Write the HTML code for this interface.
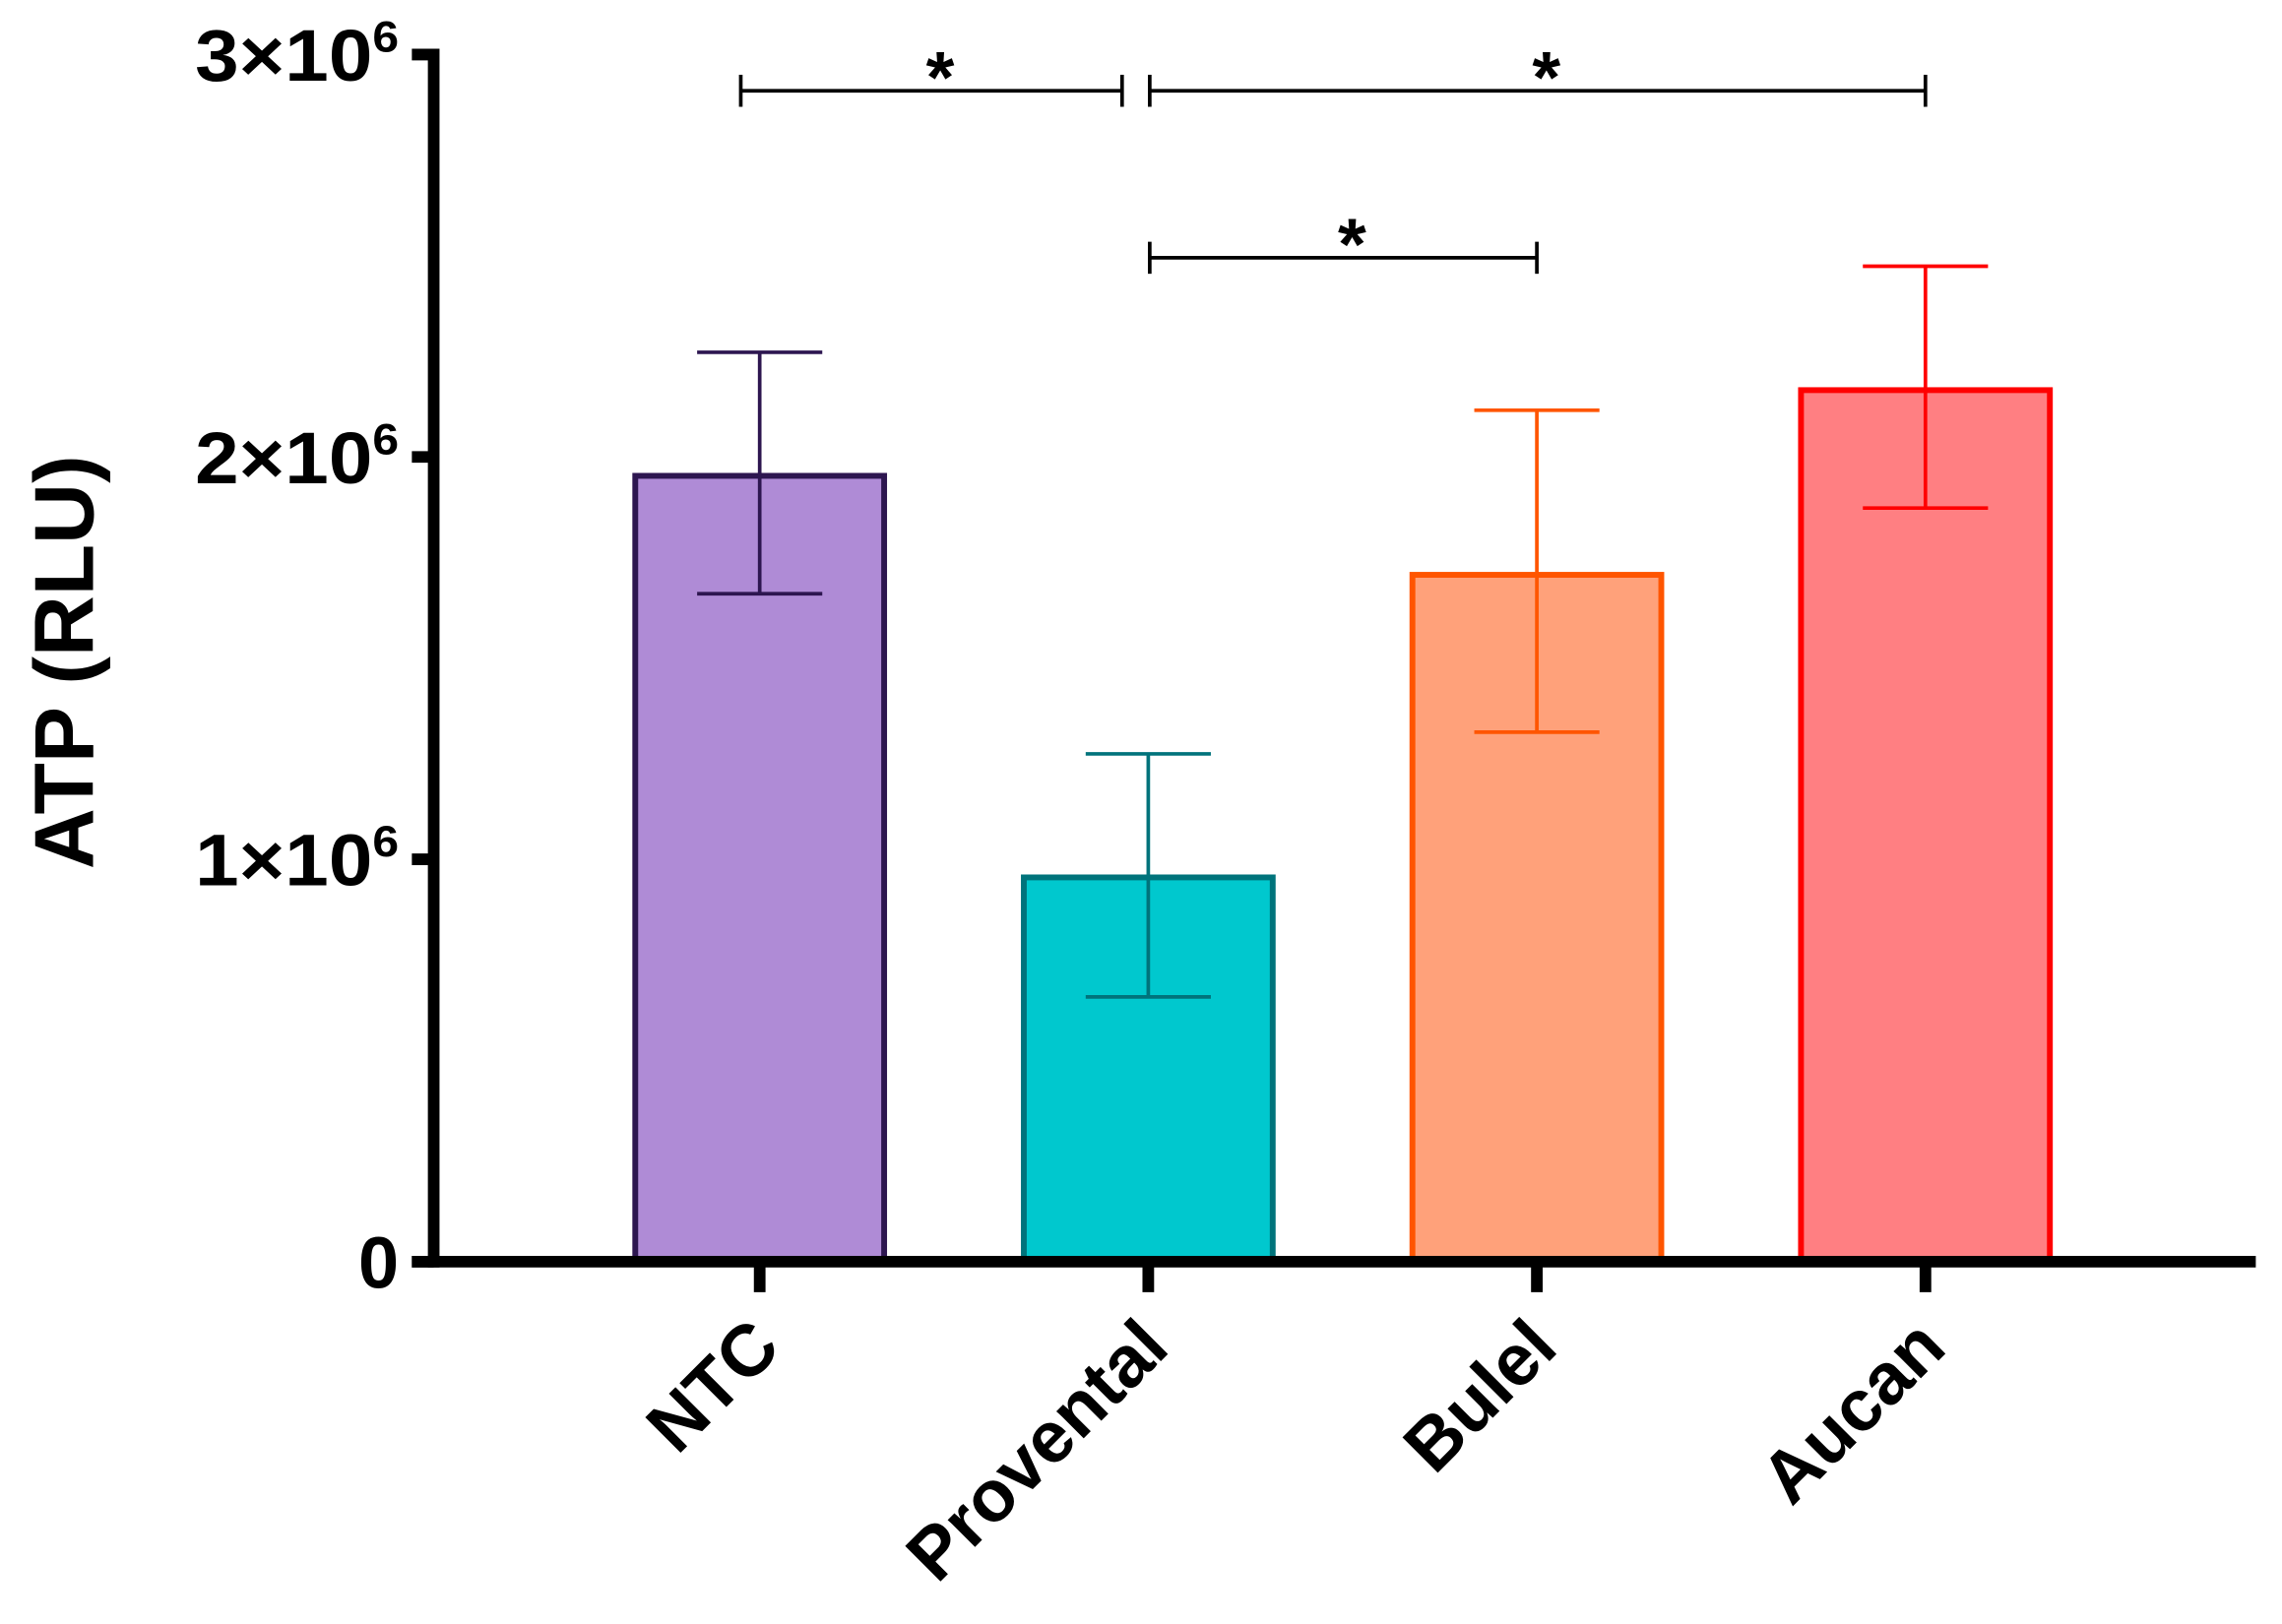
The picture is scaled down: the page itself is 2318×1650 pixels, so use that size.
<!DOCTYPE html>
<html><head><meta charset="utf-8"><style>html,body{margin:0;padding:0;background:#fff}svg{display:block}</style></head>
<body>
<svg id="chart" width="2318" height="1650" viewBox="0 0 1568 1116" preserveAspectRatio="none" xmlns="http://www.w3.org/2000/svg" font-family="'Liberation Sans', Arial, sans-serif" font-weight="bold"></svg>
<script>
const categories = ["NTC", "Provental", "Bulel", "Aucan"];
const means = [1.953, 0.955, 1.707, 2.166];
const errUpper = [2.26, 1.262, 2.116, 2.474];
const errLower = [1.66, 0.658, 1.316, 1.873];
const fills = ["#AF8BD6", "#00C8CE", "#FFA17A", "#FF7F82"];
const strokes = ["#2D1650", "#00737B", "#FF5500", "#FF0000"];
const yTicks = [0, 1, 2, 3];
const sigFrom = [0, 1, 1];
const sigTo = [1, 3, 2];
const sigLevel = [2.91, 2.91, 2.495];

const svg = document.getElementById('chart');
const NS = 'http://www.w3.org/2000/svg';
const y0 = 867, yUnit = 276.5;
const xFirst = 522, xStep = 267;
function yScale(v){ return y0 - v * yUnit; }
function xScale(i){ return xFirst + i * xStep; }
function mk(tag, attrs, parent){ const e = document.createElementNS(NS, tag); for (const k in attrs) e.setAttribute(k, attrs[k]); (parent||svg).appendChild(e); return e; }

categories.forEach((c, i) => {
  const cx = xScale(i), w = 171;
  const b = mk('rect', {x: cx - w/2, y: yScale(means[i]), width: w, height: y0 - yScale(means[i]), fill: fills[i], stroke: strokes[i], 'stroke-width': 4});
  
  
  const g = mk('g', {stroke: strokes[i], 'stroke-width': 2.5, fill: 'none'});
  
  
  mk('line', {x1: cx, x2: cx, y1: yScale(errUpper[i]), y2: yScale(errLower[i])}, g);
  mk('line', {x1: cx - 43, x2: cx + 43, y1: yScale(errUpper[i]), y2: yScale(errUpper[i])}, g);
  mk('line', {x1: cx - 43, x2: cx + 43, y1: yScale(errLower[i]), y2: yScale(errLower[i])}, g);
});

const ax = mk('g', {stroke: '#000', fill: 'none'});


mk('line', {x1: 298, x2: 298, y1: yScale(3) - 4, y2: y0 + 4, 'stroke-width': 8}, ax);
mk('line', {x1: 283, x2: 1550, y1: y0, y2: y0, 'stroke-width': 8}, ax);
yTicks.forEach(t => {
  mk('line', {x1: 283, x2: 298, y1: yScale(t), y2: yScale(t), 'stroke-width': 8}, ax);
  const tx = mk('text', {x: 274, y: yScale(t) + 18, 'text-anchor': 'end', 'font-size': 50, fill: '#000', stroke: 'none'});
  
  
  if (t === 0) { tx.textContent = '0'; }
  else {
    tx.setAttribute('textLength', 140);
    tx.setAttribute('lengthAdjust', 'spacingAndGlyphs');
    tx.textContent = t + '×10';
    const s = mk('tspan', {'font-size': 30, dy: -20}, tx); s.textContent = '6';
  }
});
categories.forEach((c, i) => {
  const cx = xScale(i);
  mk('line', {x1: cx, x2: cx, y1: y0, y2: 888, 'stroke-width': 8}, ax);
  const lx = cx + 16, ly = 928;
  const t = mk('text', {x: lx, y: ly, 'text-anchor': 'end', 'font-size': 50, fill: '#000', transform: `rotate(-45 ${lx} ${ly})`});
  
  
  t.textContent = c;
});
const yt = mk('text', {x: 64, y: 455, 'text-anchor': 'middle', 'font-size': 58, fill: '#000', transform: 'rotate(-90 64 455)'});


yt.textContent = 'ATP (RLU)';

sigFrom.forEach((f, k) => {
  const x1 = xScale(f) + (f === 0 ? -13 : 1), x2 = xScale(sigTo[k]) + (sigTo[k] === 1 ? -18 : 0);
  const y = yScale(sigLevel[k]);
  const g = mk('g', {stroke: '#000', 'stroke-width': 2.5});
  
  
  mk('line', {x1, x2, y1: y, y2: y}, g);
  mk('line', {x1, x2: x1, y1: y - 11, y2: y + 11}, g);
  mk('line', {x1: x2, x2, y1: y - 11, y2: y + 11}, g);
  const s = mk('text', {x: (x1 + x2) / 2 + 6, y: y + 8, 'text-anchor': 'middle', 'font-size': 50, fill: '#000', stroke: 'none'});
  
  
  s.textContent = '*';
});
</script>
</body></html>
